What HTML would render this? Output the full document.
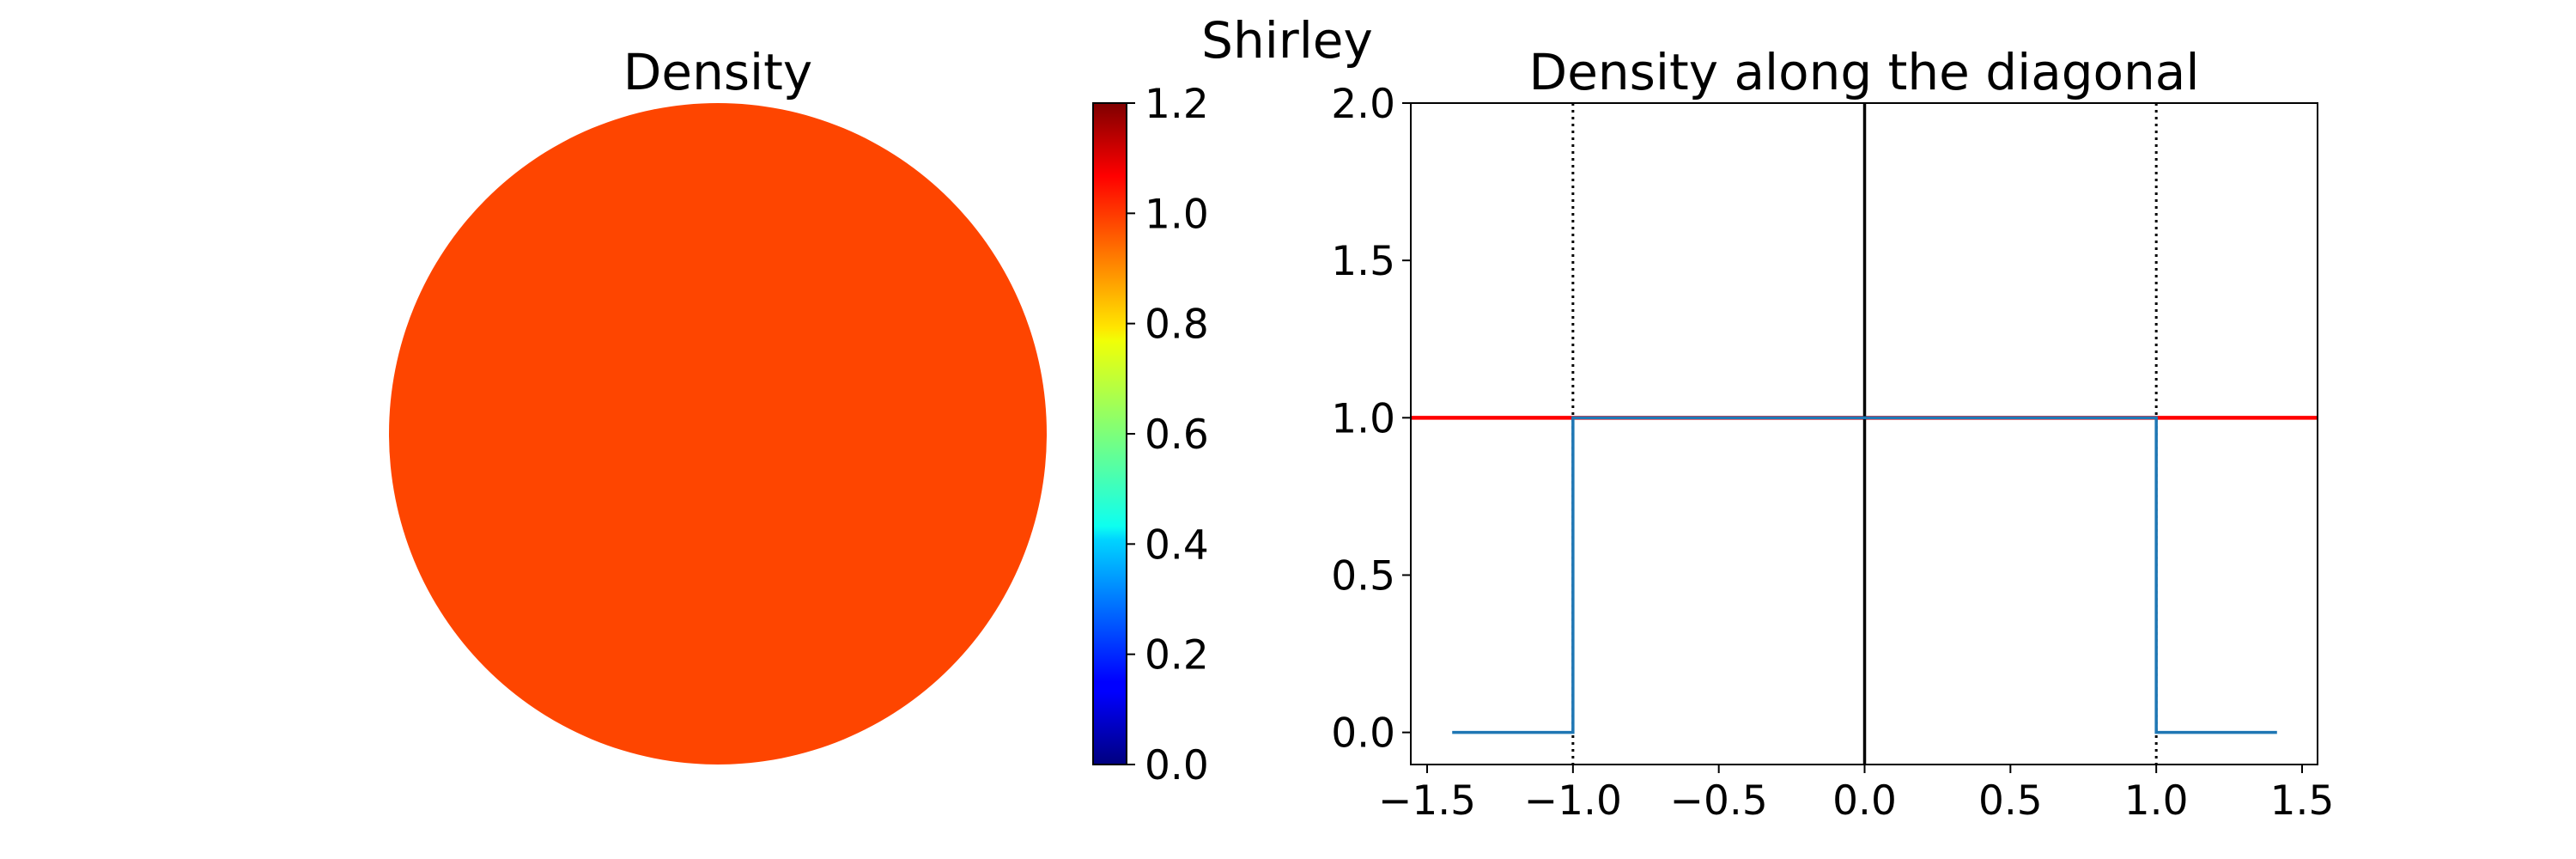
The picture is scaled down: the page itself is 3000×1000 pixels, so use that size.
<!DOCTYPE html>
<html><head><meta charset="utf-8"><style>
html,body{margin:0;padding:0;background:#fff;}
svg{display:block;font-family:"DejaVu Sans","Liberation Sans",sans-serif;}
</style></head><body>
<svg width="3000" height="1000" viewBox="0 0 3000 1000" id="fig">
<defs>
<linearGradient id="jet" x1="0" y1="1" x2="0" y2="0">
<stop offset="0" stop-color="#00007f"/><stop offset="0.11" stop-color="#0000ff"/>
<stop offset="0.125" stop-color="#0000ff"/><stop offset="0.34" stop-color="#00d4ff"/>
<stop offset="0.36" stop-color="#0dfff0"/><stop offset="0.5" stop-color="#7dff7a"/>
<stop offset="0.64" stop-color="#f0ff07"/><stop offset="0.66" stop-color="#ffe600"/>
<stop offset="0.89" stop-color="#ff0000"/><stop offset="1" stop-color="#7f0000"/>
</linearGradient>
</defs>
<text x="1499" y="67" font-size="58" text-anchor="middle">Shirley</text>
<text x="836" y="104" font-size="58" text-anchor="middle">Density</text>
<ellipse cx="836" cy="505" rx="383" ry="385" fill="#fe4500"/>
<g id="cbar">
<rect x="1273" y="120" width="39" height="770" fill="url(#jet)" stroke="#000" stroke-width="2"/>
</g>
<text x="2171" y="104" font-size="58" text-anchor="middle">Density along the diagonal</text>
<g id="plot"></g>
</svg>
<script>
const cbarTicks = [0.0, 0.2, 0.4, 0.6, 0.8, 1.0, 1.2];
const xTicks = [-1.5, -1.0, -0.5, 0.0, 0.5, 1.0, 1.5];
const yTicks = [0.0, 0.5, 1.0, 1.5, 2.0];
const densityX = [-1.414, -1.0, -1.0, 1.0, 1.0, 1.414];
const densityY = [0, 0, 1, 1, 0, 0];
const refLevel = 1.0;
const boundaries = [-1.0, 1.0];
const centerX = 0.0;

const NS = "http://www.w3.org/2000/svg";
function mk(tag, attrs, parent){const e=document.createElementNS(NS,tag);for(const k in attrs)e.setAttribute(k,attrs[k]);parent.appendChild(e);return e;}
const cb = document.getElementById('cbar');
const cy = v => 890 - v/1.2*770;
cbarTicks.forEach(v=>{
  const t=mk('line',{x1:1312,x2:1322,y1:cy(v),y2:cy(v),stroke:'#000','stroke-width':2},cb);
  
  
  const l=mk('text',{x:1333,y:cy(v)+17,'font-size':47},cb);
  l.textContent=v.toFixed(1);
  
  
});
const L=1643,R=2699,T=120,B=890;
const xmin=-1.556,xmax=1.553,ymin=-0.102,ymax=2.0;
const sx=v=>L+(v-xmin)/(xmax-xmin)*(R-L);
const sy=v=>B-(v-ymin)/(ymax-ymin)*(B-T);
const g=document.getElementById('plot');
const red=mk('line',{x1:L,x2:R,y1:sy(refLevel),y2:sy(refLevel),stroke:'#ff0000','stroke-width':4.5},g);


boundaries.forEach(b=>{
  const d=mk('line',{x1:sx(b),x2:sx(b),y1:T,y2:B,stroke:'#000','stroke-width':3,'stroke-dasharray':'3,5'},g);
  
  
});
const c=mk('line',{x1:sx(centerX),x2:sx(centerX),y1:T,y2:B,stroke:'#000','stroke-width':3.5},g);


const pl=mk('polyline',{points:densityX.map((x,i)=>sx(x)+','+sy(densityY[i])).join(' '),fill:'none',stroke:'#1f77b4','stroke-width':3.5},g);


const fr=mk('rect',{x:L,y:T,width:R-L,height:B-T,fill:'none',stroke:'#000','stroke-width':2},g);


xTicks.forEach(v=>{
  const t=mk('line',{x1:sx(v),x2:sx(v),y1:B,y2:B+10,stroke:'#000','stroke-width':2},g);
  
  
  const l=mk('text',{x:sx(v),y:B+58,'font-size':47,'text-anchor':'middle'},g);
  l.textContent=(v<0?'\u2212':'')+Math.abs(v).toFixed(1);
  
  
});
yTicks.forEach(v=>{
  const t=mk('line',{x1:L-10,x2:L,y1:sy(v),y2:sy(v),stroke:'#000','stroke-width':2},g);
  
  
  const l=mk('text',{x:L-18,y:sy(v)+17,'font-size':47,'text-anchor':'end'},g);
  l.textContent=v.toFixed(1);
  
  
});
</script>
</body></html>
